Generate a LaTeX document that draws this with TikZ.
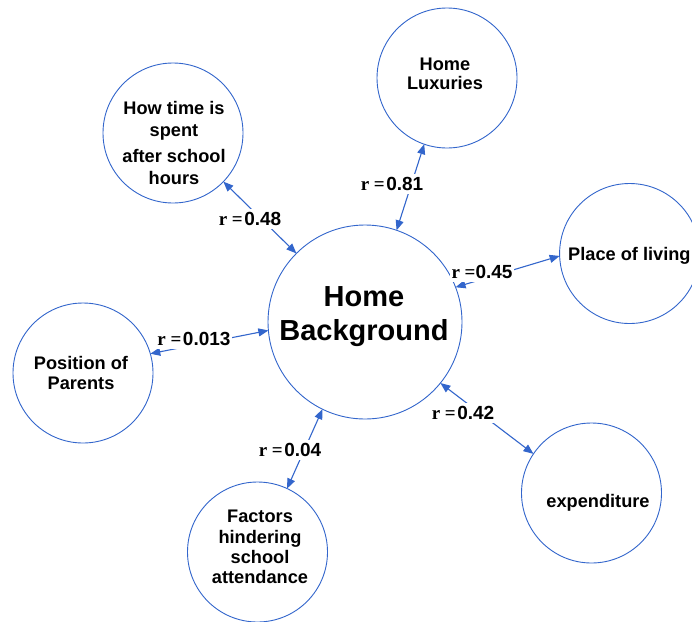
\documentclass[tikz,border=0pt]{standalone}
\usepackage{fontspec}
\setmainfont{Liberation Serif}
\setsansfont{Liberation Sans}
\usetikzlibrary{arrows.meta}
\definecolor{linkblue}{RGB}{51,102,204}

\tikzset{
  topic/.style={circle, draw=linkblue, line width=0.9pt, minimum size=140pt, inner sep=0pt, outer sep=0pt},
  core/.style={topic, minimum size=194pt},
  topictext/.style={font=\sffamily\bfseries\fontsize{18.2}{20.3}\selectfont, align=center, inner sep=0pt},
  coretext/.style={font=\sffamily\bfseries\fontsize{29}{34}\selectfont, align=center, inner sep=0pt},
  link/.style={draw=linkblue, line width=1.1pt, {Triangle[length=10pt,width=8pt]}-{Triangle[length=10pt,width=8pt]}},
  rlabel/.style={fill=white, inner xsep=1.5pt, inner ysep=3pt, font=\fontsize{19}{21}\selectfont}
}
\newcommand{\rval}[1]{{\rmfamily\bfseries r =}\hspace{1.5pt}{\sffamily\bfseries #1}}

\begin{document}
\begin{tikzpicture}[x=1pt, y=-1pt]
  \path[use as bounding box, fill=white] (0,0) rectangle (692,621);

  % circles
  \node[core]  (hb)    at (365,322)   {};
  \node[topic] (lux)   at (447,78)    {};
  \node[topic] (time)  at (173,133)   {};
  \node[topic] (place) at (629.6,253.5) {};
  \node[topic] (pos)   at (83,373)    {};
  \node[topic] (fac)   at (257.5,552) {};
  \node[topic] (exp)   at (591.5,493) {};

  % two-way links
  \draw[link] (hb.71)  -- (lux.251);
  \draw[link] (hb.135) -- (time.316);
  \draw[link] (hb.21)  -- (place.182);
  \draw[link] (hb.185) -- (pos.16);
  \draw[link] (hb.244) -- (fac.65);
  \draw[link] (hb.321) -- (exp.146);

  % correlation values
  \node[rlabel] (l48)  at (250,219) {\rval{0.48}};
  \node[rlabel] (l81)  at (392,184) {\rval{0.81}};
  \node[rlabel] (l45)  at (482,272) {{\rmfamily\bfseries r =}{\sffamily\bfseries 0.45}};
  \node[rlabel] (l013) at (194,339) {\rval{0.013}};
  \node[rlabel] (l04)  at (290,450) {\rval{0.04}};
  \node[rlabel] (l42)  at (463,413) {\rval{0.42}};

  % circle texts
  \node[coretext]  (hbt)    at (364,317) {Home\\Background};
  \node[topictext, font=\sffamily\bfseries\fontsize{18.2}{19.5}\selectfont] (luxt) at (445,74) {Home\\Luxuries};
  \node[topictext, font=\sffamily\bfseries\fontsize{18.2}{22.5}\selectfont] (timet) at (174,143) {How time is\\spent\\[3pt]after school\\hours};
  \node[topictext, anchor=base west] (placet) at (568,260) {Place of living};
  \node[topictext, font=\sffamily\bfseries\fontsize{18.2}{20.5}\selectfont] (post) at (81,373) {Position of\\Parents};
  \node[topictext] (fact) at (260,547) {Factors\\hindering\\school\\attendance};
  \node[topictext, anchor=base] (expt) at (598,507) {expenditure};
\end{tikzpicture}
\end{document}
